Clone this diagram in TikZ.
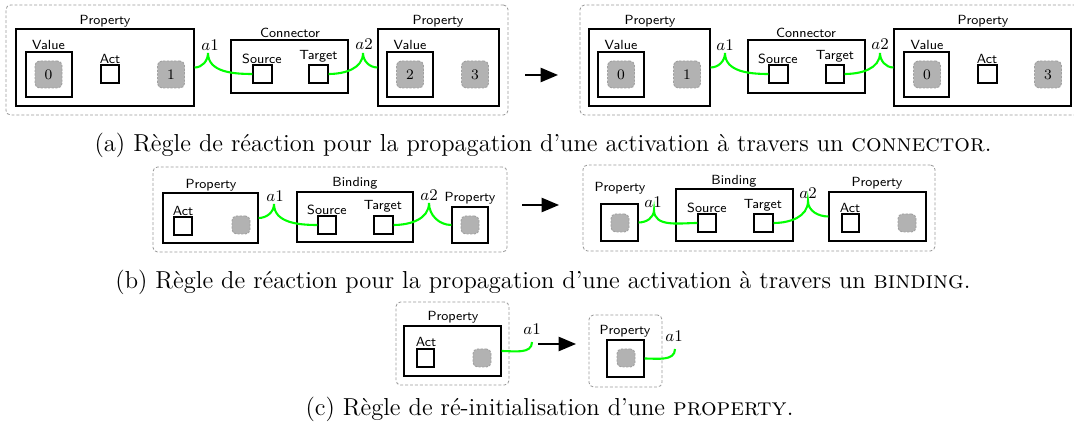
\documentclass[tikz,border=0pt]{standalone}
\usetikzlibrary{fit,arrows.meta}
\newlength\uu
\setlength\uu{0.55pt}
\begin{document}
\begin{tikzpicture}[x=\uu,y=-\uu,
  box/.style={draw,line width=0.65pt,inner sep=0pt},
  outer/.style={draw=gray!80,dash pattern=on 1.6pt off 1.1pt,rounded corners=2.5pt,inner sep=0pt,line width=0.45pt},
  lbl/.style={font=\sffamily\fontsize{7.3}{9}\selectfont,inner sep=0pt},
  ml/.style={font=\fontsize{9.5}{11}\selectfont,inner sep=0pt},
  tok/.style={draw=gray!75,dash pattern=on 1.2pt off 0.8pt,line width=0.5pt,fill=gray!60,rounded corners=2.5pt,minimum size=27*\uu,inner sep=0pt,font=\fontsize{8}{9}\selectfont},
  stok/.style={tok,minimum size=18*\uu},
  grn/.style={draw=green,line width=1.15pt},
  arr/.style={line width=0.9pt,-{Triangle[length=9.5pt,width=7.8pt]}},
  captxt/.style={font=\fontsize{13.5}{15}\selectfont,inner sep=0pt,anchor=base}]
\useasboundingbox (0,0) rectangle (1074,432);
\fill[white] (0,0) rectangle (1074,432);
% ---------- row a, left ----------
\node[outer,fit={(6,5)(508,115)}] (oaL) {};
\node[box,fit={(16,29)(194,106)}] (aP1) {};
\node[lbl] (aP1l) at (105,21) {Property};
\node[box,fit={(26,52)(72,97)}] (aV1) {};
\node[lbl] (aV1l) at (48.5,45) {Value};
\node[tok] (aT0) at (48.5,74.5) {0};
\node[box,fit={(101,65)(119,83)}] (aA1) {};
\node[lbl] (aA1l) at (110,59) {Act};
\node[tok] (aT1) at (171,74.5) {1};
\node[box,fit={(231,40)(348,93)}] (aC) {};
\node[lbl] (aCl) at (290,33) {Connector};
\node[box,fit={(253,65)(272,83)}] (aS) {};
\node[lbl] (aSl) at (262,59) {Source};
\node[box,fit={(309,65)(328,83)}] (aT) {};
\node[lbl] (aTl) at (318.5,56) {Target};
\node[box,fit={(378,29)(499,106)}] (aP2) {};
\node[lbl] (aP2l) at (438,21) {Property};
\node[box,fit={(387,52)(433,97)}] (aV2) {};
\node[lbl] (aV2l) at (410,45) {Value};
\node[tok] (aT2) at (410,74.5) {2};
\node[tok] (aT3) at (475,74.5) {3};
\node[ml] (aa1) at (210,45) {$a1$};
\coordinate (aa1c) at (208,53);
\node[ml] (aa2) at (364,44) {$a2$};
\coordinate (aa2c) at (363,53);
\draw[grn] (aP1.east) to[out=0,in=-90] (aa1c) to[out=-90,in=180] (aS.west);
\draw[grn] (aT.east) to[out=0,in=-90] (aa2c) to[out=-90,in=180] (aP2.west);
% arrow a
\coordinate (aArS) at (525,75);
\coordinate (aArE) at (558,75);
\draw[arr] (aArS) -- (aArE);
% ---------- row a, right ----------
\node[outer,fit={(580,5)(1080,115)}] (oaR) {};
\node[box,fit={(589,29)(710,106)}] (bP1) {};
\node[lbl] (bP1l) at (650,21) {Property};
\node[box,fit={(598,52)(644,97)}] (bV1) {};
\node[lbl] (bV1l) at (621,45) {Value};
\node[tok] (bT0) at (621,74.5) {0};
\node[tok] (bT1) at (687,74.5) {1};
\node[box,fit={(748,40)(865,93)}] (bC) {};
\node[lbl] (bCl) at (806,33) {Connector};
\node[box,fit={(769,65)(788,83)}] (bS) {};
\node[lbl] (bSl) at (778,59) {Source};
\node[box,fit={(826,65)(844,83)}] (bT) {};
\node[lbl] (bTl) at (835,56) {Target};
\node[box,fit={(894,29)(1071,106)}] (bP2) {};
\node[lbl] (bP2l) at (983,21) {Property};
\node[box,fit={(904,52)(949,97)}] (bV2) {};
\node[lbl] (bV2l) at (927,45) {Value};
\node[tok] (bT0b) at (927,74.5) {0};
\node[box,fit={(978,65)(997,83)}] (bA) {};
\node[lbl] (bAl) at (987,59) {Act};
\node[tok] (bT3) at (1048,74.5) {3};
\node[ml] (ba1) at (725,45) {$a1$};
\coordinate (ba1c) at (725,53);
\node[ml] (ba2) at (880,44) {$a2$};
\coordinate (ba2c) at (880,53);
\draw[grn] (bP1.east) to[out=0,in=-90] (ba1c) to[out=-90,in=180] (bS.west);
\draw[grn] (bT.east) to[out=0,in=-90] (ba2c) to[out=-90,in=180] (bP2.west);
\node[captxt] (capa) at (543,152) {(a) Règle de réaction pour la propagation d’une activation à travers un \textsc{connector}.};
% ---------- row b, left ----------
\node[outer,fit={(153,167)(507,252)}] (obL) {};
\node[box,fit={(163,193)(258,243)}] (cP1) {};
\node[lbl] (cP1l) at (211,185) {Property};
\node[box,fit={(174,217)(192,235)}] (cA) {};
\node[lbl] (cAl) at (183,211) {Act};
\node[stok] (cTk1) at (241,225) {};
\node[box,fit={(297,192)(413,242)}] (cB) {};
\node[lbl] (cBl) at (355,183) {Binding};
\node[box,fit={(318,216)(336,234)}] (cS) {};
\node[lbl] (cSl) at (327,210) {Source};
\node[box,fit={(374,216)(393,234)}] (cT) {};
\node[lbl] (cTl) at (383,206) {Target};
\node[box,fit={(452,207)(488,243)}] (cP2) {};
\node[lbl] (cP2l) at (470,198) {Property};
\node[stok] (cTk2) at (470,225) {};
\node[ml] (ca1) at (275,196) {$a1$};
\coordinate (ca1c) at (274,204);
\node[ml] (ca2) at (429,195) {$a2$};
\coordinate (ca2c) at (429,203);
\draw[grn] (cP1.east) to[out=0,in=-90] (ca1c) to[out=-90,in=180] (cS.west);
\draw[grn] (cT.east) to[out=0,in=-90] (ca2c) to[out=-90,in=180] (cP2.west);
\coordinate (bArS) at (522,205);
\coordinate (bArE) at (559,205);
\draw[arr] (bArS) -- (bArE);
% ---------- row b, right ----------
\node[outer,fit={(583,165)(935,251)}] (obR) {};
\node[box,fit={(601,204)(638,241)}] (dP1) {};
\node[lbl] (dP1l) at (620,188) {Property};
\node[stok] (dTk1) at (620,223) {};
\node[box,fit={(676,189)(793,241)}] (dB) {};
\node[lbl] (dBl) at (734,181) {Binding};
\node[box,fit={(698,214)(716,232)}] (dS) {};
\node[lbl] (dSl) at (707,208) {Source};
\node[box,fit={(754,214)(773,232)}] (dT) {};
\node[lbl] (dTl) at (763,205) {Target};
\node[box,fit={(829,192)(926,241)}] (dP2) {};
\node[lbl] (dP2l) at (877,183) {Property};
\node[box,fit={(842,214)(859,232)}] (dA) {};
\node[lbl] (dAl) at (850,208) {Act};
\node[stok] (dTk2) at (907,223) {};
\node[ml] (da1) at (653,202) {$a1$};
\coordinate (da1c) at (654,210);
\node[ml] (da2) at (808,193) {$a2$};
\coordinate (da2c) at (808,201);
\draw[grn] (dP1.east) to[out=0,in=-90] (da1c) to[out=-90,in=180] (dS.west);
\draw[grn] (dT.east) to[out=0,in=-90] (da2c) to[out=-90,in=180] (dP2.west);
\node[captxt] (capb) at (543,289) {(b) Règle de réaction pour la propagation d’une activation à travers un \textsc{binding}.};
% ---------- row c ----------
\node[outer,fit={(396,302)(509,385)}] (ocL) {};
\node[box,fit={(404,326)(501,376)}] (eP) {};
\node[lbl] (ePl) at (453,317) {Property};
\node[box,fit={(417,349)(434,367)}] (eA) {};
\node[lbl] (eAl) at (426,342) {Act};
\node[stok] (eTk) at (482,358) {};
\node[ml] (ea1) at (532,329) {$a1$};
\coordinate (ea1c) at (532,342);
\draw[grn] (eP.east) to[out=0,in=-90] (ea1c);
\coordinate (cArS) at (538,344);
\coordinate (cArE) at (576,344);
\draw[arr] (cArS) -- (cArE);
\node[outer,fit={(589,315)(662,387)}] (ocR) {};
\node[box,fit={(607,340)(644,377)}] (fP) {};
\node[lbl] (fPl) at (625,331) {Property};
\node[stok] (fTk) at (626,358) {};
\node[ml] (fa1) at (674,336) {$a1$};
\coordinate (fa1c) at (675,349);
\draw[grn] (fP.east) to[out=0,in=-90] (fa1c);
\node[captxt] (capc) at (549.5,416) {(c) Règle de ré-initialisation d’une \textsc{property}.};
\end{tikzpicture}
\end{document}
